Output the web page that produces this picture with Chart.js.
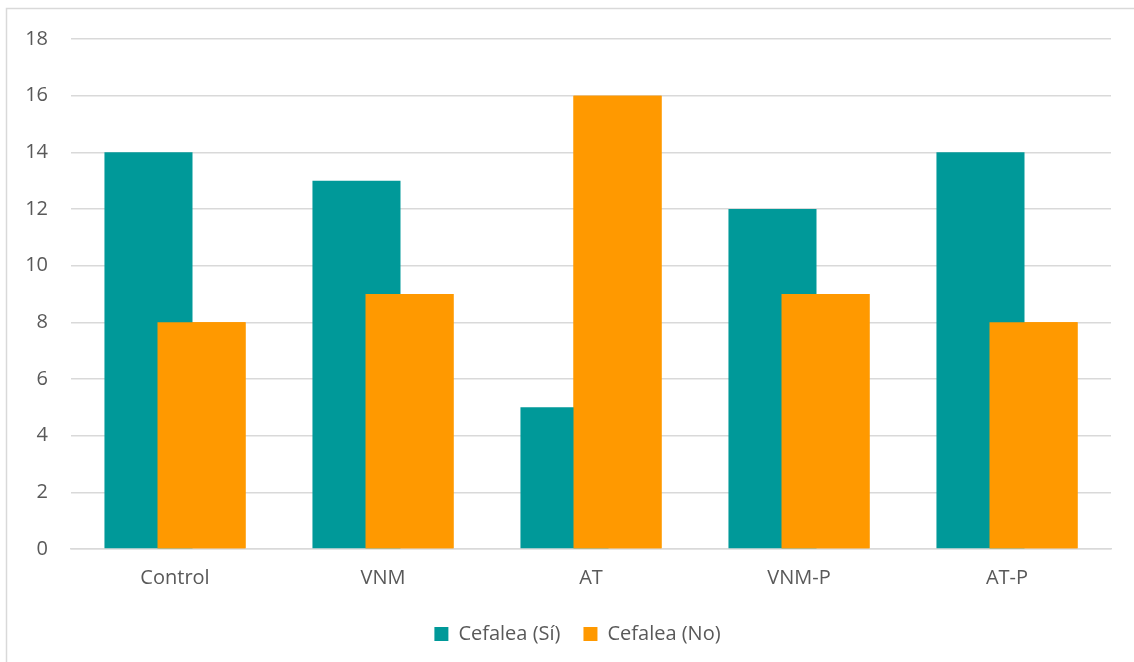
<!DOCTYPE html>
<html>
<head>
<meta charset="utf-8">
<script src="https://cdn.jsdelivr.net/npm/chart.js@4.4.1/dist/chart.umd.min.js"></script>
<style>
  html, body { margin: 0; padding: 0; background: #ffffff; }
  #wrap { width: 1134px; height: 662px; position: relative; }
</style>
</head>
<body>
<div id="wrap"><canvas id="chart" width="1134" height="662"></canvas></div>
<script>
// Groups and counts per group
const categories = ['Control', 'VNM', 'AT', 'VNM-P', 'AT-P'];
const cefaleaSi = [14, 13, 5, 12, 14];
const cefaleaNo = [8, 9, 16, 9, 8];
const seriesNames = ['Cefalea (Sí)', 'Cefalea (No)'];
const yTicks = [0, 2, 4, 6, 8, 10, 12, 14, 16, 18];

const TEAL = '#009999';
const ORANGE = '#FF9900';
const TEXT = '#595959';
const GRID = '#d9d9d9';
const FONT = "'Open Sans', 'Liberation Sans', sans-serif";

// Light frame around the chart area (open on the right and bottom edges)
const framePlugin = {
  id: 'frame',
  beforeDraw(chart) {
    const ctx = chart.ctx;
    ctx.save();
    ctx.fillStyle = '#ffffff';
    ctx.fillRect(0, 0, chart.width, chart.height);
    ctx.strokeStyle = GRID;
    ctx.lineWidth = 1.5;
    ctx.strokeRect(6.5, 8.5, chart.width + 20, chart.height + 20);
    ctx.restore();
  }
};

// Legend is centred over the frame's inner width rather than the whole canvas
const legendShiftPlugin = {
  id: 'legendShift',
  afterLayout(chart) {
    if (chart.legend) {
      chart.legend.left = 44;
    }
  }
};

// Bars overlap; paint the second series above the first
const overlapPlugin = {
  id: 'overlapOrder',
  afterDatasetsDraw(chart) {
    const meta = chart.getDatasetMeta(1);
    if (!meta.hidden) {
      const ctx = chart.ctx;
      const area = chart.chartArea;
      ctx.save();
      ctx.beginPath();
      ctx.rect(area.left, area.top - 2, area.right - area.left, area.bottom - area.top + 2);
      ctx.clip();
      meta.data.forEach(el => el.draw(ctx, area));
      ctx.restore();
    }
  }
};

new Chart(document.getElementById('chart'), {
  type: 'bar',
  data: {
    labels: categories,
    datasets: [
      {
        label: seriesNames[0],
        data: cefaleaSi,
        backgroundColor: TEAL,
        borderWidth: 0,
        categoryPercentage: 0.51,
        barPercentage: 1.66
      },
      {
        label: seriesNames[1],
        data: cefaleaNo,
        backgroundColor: ORANGE,
        borderWidth: 0,
        categoryPercentage: 0.51,
        barPercentage: 1.66
      }
    ]
  },
  options: {
    responsive: false,
    animation: false,
    devicePixelRatio: 1,
    layout: { padding: { top: 39, right: 23, bottom: 8, left: 0 } },
    plugins: {
      legend: {
        position: 'bottom',
        labels: {
          color: TEXT,
          font: { family: FONT, size: 20 },
          boxWidth: 14,
          boxHeight: 14,
          padding: 23
        }
      },
      tooltip: { enabled: false }
    },
    scales: {
      x: {
        grid: { display: false, drawTicks: false },
        border: { display: true, color: GRID, width: 1.5 },
        ticks: {
          color: TEXT,
          font: { family: FONT, size: 20 },
          padding: 17
        },
        afterFit(scale) { scale.height = 52; }
      },
      y: {
        min: 0,
        max: 18,
        afterBuildTicks(scale) { scale.ticks = yTicks.map(v => ({ value: v })); },
        grid: { color: GRID, lineWidth: 1.5, drawTicks: false },
        border: { display: false },
        ticks: {
          color: TEXT,
          font: { family: FONT, size: 20 },
          padding: 23
        },
        afterFit(scale) { scale.width = 71; }
      }
    }
  },
  plugins: [framePlugin, legendShiftPlugin, overlapPlugin]
});
</script>
</body>
</html>
